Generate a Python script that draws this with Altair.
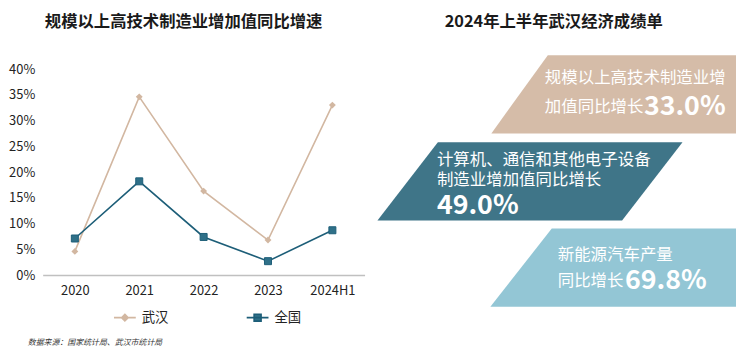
import altair as alt
import pandas as pd

FONT = "Noto Sans CJK SC"

# ---------------- data ----------------
years = ["2020", "2021", "2022", "2023", "2024H1"]
wuhan = [4.6, 34.6, 16.3, 6.8, 33.0]
national = [7.1, 18.2, 7.4, 2.7, 8.7]
series_names = ["武汉", "全国"]
y_ticks = [0, 5, 10, 15, 20, 25, 30, 35, 40]

left_title = "规模以上高技术制造业增加值同比增速"
right_title = "2024年上半年武汉经济成绩单"
source_note = "数据来源：国家统计局、武汉市统计局"

panel_names = ["p1", "p2", "p3"]
regular_texts = ["规模以上高技术制造业增", "加值同比增长",
                 "计算机、通信和其他电子设备", "制造业增加值同比增长",
                 "新能源汽车产量", "同比增长"]
bold_texts = ["33.0%", "49.0%", "69.8%"]

# ---------------- styles / layout ----------------
TAN = "#d2b7a1"
TEAL = "#1d5e78"
TEAL_FILL = "#2f7088"
panel_colors = ["#d5bca8", "#3f7588", "#93c6d5"]
PATH_W = "M-1,0H1M0,-0.3L0.3,0L0,0.3L-0.3,0Z"
PATH_N = "M-1,0H1M-0.32,-0.32H0.32V0.32H-0.32Z"

# panel geometry (page pixel coordinates)
panel_top = [54, 142, 229]
panel_bottom = [133, 221, 308]
panel_top_left = [552, 441, 556]
panel_bottom_left = [495, 380, 494]
panel_top_right = [742, 688, 742]
panel_bottom_right = [742, 627, 742]

regular_x = [549, 549, 440, 440, 562, 562]
regular_y = [77, 106, 160, 180, 256, 282]
bold_x = [649, 440, 630]
bold_y = [106, 206, 282]

PLOT_TOP = 50
LEFT_H = 276 - PLOT_TOP
Y_MAX = 40 * LEFT_H / 208

# ---------------- left chart ----------------
rows = []
for i, yr in enumerate(years):
    rows.append({"year": yr, "series": series_names[0], "value": wuhan[i]})
    rows.append({"year": yr, "series": series_names[1], "value": national[i]})
df = pd.DataFrame(rows)

x_enc = alt.X("year:N", sort=years, scale=alt.Scale(type="point", padding=0.5),
              axis=alt.Axis(title=None, labelAngle=0, ticks=False, tickSize=0,
                            labelPadding=10, labelFontSize=13, labelColor="#222",
                            labelFont=FONT, domainColor="#c0c0c0", domainWidth=1.5,
                            grid=False))
y_enc = alt.Y("value:Q", scale=alt.Scale(domain=[0, Y_MAX], nice=False, zero=True),
              axis=alt.Axis(title=None, values=y_ticks, labelExpr="datum.value + '%'",
                            domain=False, ticks=False, tickSize=0, grid=False,
                            labelPadding=8, labelFontSize=13, labelColor="#222",
                            labelFont=FONT))


def make_legend(lx, sym, fillc, strokec):
    return alt.Legend(orient="none", legendX=lx, legendY=257,
                      direction="horizontal", title=None,
                      symbolType=sym, symbolSize=484, symbolStrokeWidth=1.6,
                      symbolFillColor=fillc, symbolStrokeColor=strokec, symbolOpacity=1,
                      labelFontSize=13.5, labelFont=FONT, labelColor="#222",
                      labelOffset=5, padding=0)


base = alt.Chart(df).encode(x=x_enc, y=y_enc)
lines = base.mark_line(strokeWidth=1.6).encode(
    color=alt.Color("series:N", scale=alt.Scale(domain=series_names, range=[TAN, TEAL]), legend=None)
)
pts_w = base.transform_filter(alt.datum.series == series_names[0]).mark_point(
    shape="diamond", filled=True, size=48, opacity=1, color=TAN)
pts_n = base.transform_filter(alt.datum.series == series_names[1]).mark_point(
    shape="square", filled=True, size=50, opacity=1, fill=TEAL_FILL, stroke=TEAL, strokeWidth=1)

legend_w = base.transform_filter(alt.datum.series == series_names[0]).mark_point(
    filled=True, size=0, opacity=1, stroke=TAN, strokeWidth=1.6).encode(
    fill=alt.Fill("series:N", scale=alt.Scale(domain=[series_names[0]], range=[TAN]),
                  legend=make_legend(71, PATH_W, TAN, TAN)))
legend_n = base.transform_filter(alt.datum.series == series_names[1]).mark_point(
    filled=True, size=0, opacity=1, fill=TEAL_FILL, strokeWidth=1.6).encode(
    stroke=alt.Stroke("series:N", scale=alt.Scale(domain=[series_names[1]], range=[TEAL]),
                      legend=make_legend(205, PATH_N, TEAL_FILL, TEAL)))

note = alt.Chart(pd.DataFrame({"t": [source_note]})).mark_text(
    align="left", baseline="middle", fontSize=8, fontStyle="italic", color="#333", font=FONT
).encode(x=alt.value(27 - 42), y=alt.value(345 - PLOT_TOP), text="t:N")

left = alt.layer(lines, pts_w, pts_n, legend_w, legend_n, note).properties(
    width=325, height=LEFT_H,
    title=alt.TitleParams(left_title, fontSize=16.5, fontWeight="bold", font=FONT,
                          color="#1a1a1a", anchor="middle", frame="bounds", offset=21, dx=-3),
)

# ---------------- right chart ----------------
prow = []
for i, p in enumerate(panel_names):
    prow.append({"panel": p, "y": panel_top[i], "x": panel_top_left[i], "x2": panel_top_right[i]})
    prow.append({"panel": p, "y": panel_bottom[i], "x": panel_bottom_left[i], "x2": panel_bottom_right[i]})
pdf = pd.DataFrame(prow)

RX0, RX1 = 380, 742
RY0, RY1 = PLOT_TOP, 314
xs = alt.Scale(domain=[RX0, RX1], nice=False, zero=False)
ys = alt.Scale(domain=[RY0, RY1], nice=False, zero=False, reverse=True)

panels = alt.Chart(pdf).mark_area(orient="horizontal", opacity=1).encode(
    y=alt.Y("y:Q", scale=ys, axis=None),
    x=alt.X("x:Q", scale=xs, axis=None, stack=None),
    x2="x2:Q",
    color=alt.Color("panel:N", scale=alt.Scale(domain=panel_names, range=panel_colors), legend=None),
)

rdf = pd.DataFrame({"t": regular_texts, "x": regular_x, "y": regular_y})
bdf = pd.DataFrame({"t": bold_texts, "x": bold_x, "y": bold_y})

reg = alt.Chart(rdf).mark_text(align="left", baseline="middle", fontSize=16.6, color="white",
                               font=FONT).encode(
    x=alt.X("x:Q", scale=xs, axis=None), y=alt.Y("y:Q", scale=ys, axis=None), text="t:N")
bold = alt.Chart(bdf).mark_text(align="left", baseline="middle", fontSize=27, fontWeight="bold",
                                color="white", font=FONT).encode(
    x=alt.X("x:Q", scale=xs, axis=None), y=alt.Y("y:Q", scale=ys, axis=None), text="t:N")

right = alt.layer(panels, reg, bold).properties(
    width=RX1 - RX0, height=RY1 - RY0,
    title=alt.TitleParams(right_title, fontSize=16.5, fontWeight="bold", font=FONT,
                          color="#1a1a1a", anchor="middle", offset=21, dx=-3),
)

chart = alt.hconcat(left, right, spacing=13).resolve_scale(
    color="independent", x="independent", y="independent",
    fill="independent", stroke="independent", shape="independent"
).resolve_legend(color="independent", fill="independent", stroke="independent",
                 shape="independent").properties(
    padding={"top": 4, "left": 0, "right": 0, "bottom": 0}
).configure(font=FONT).configure_view(strokeWidth=0, strokeOpacity=0)

chart.save("out.html", embed_options={"renderer": "svg", "actions": False})
